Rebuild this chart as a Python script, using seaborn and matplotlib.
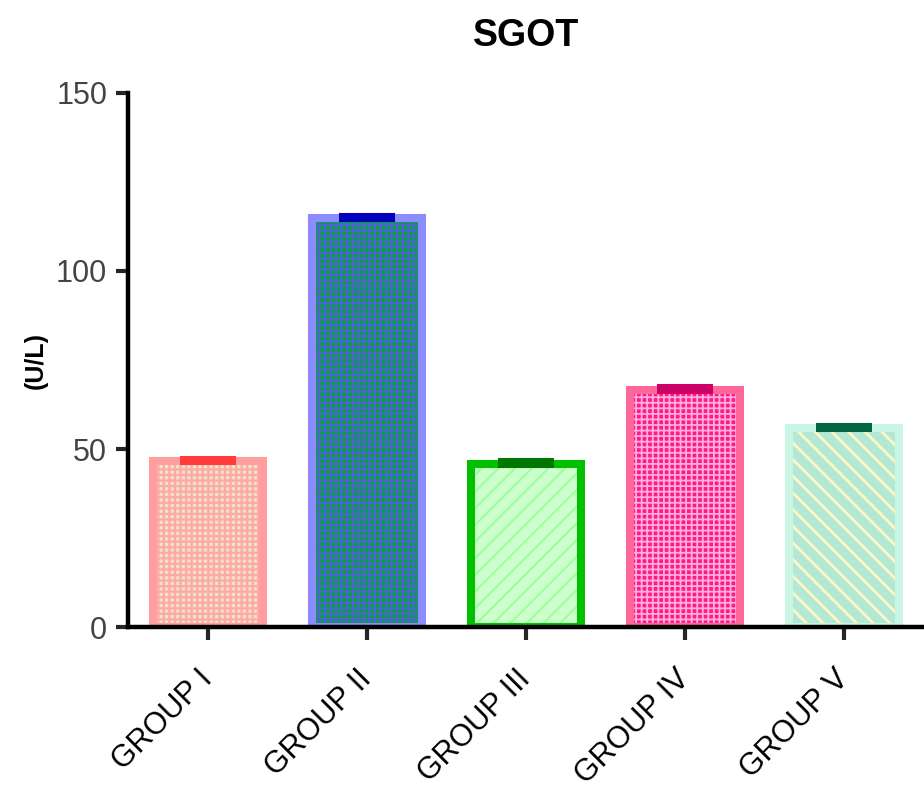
import matplotlib
matplotlib.use('Agg')
import matplotlib.pyplot as plt
import seaborn as sns

groups = ['GROUP I', 'GROUP II', 'GROUP III', 'GROUP IV', 'GROUP V']
means = [46.6, 114.9, 45.8, 66.6, 55.9]
sems = [0.4, 0.4, 0.5, 0.5, 0.4]

face_colors = ['#F0E2C4', '#00A43C', '#CCFFCC', '#FF1A8C', '#B3E8D4']
hatch_colors = ['#FFA8A8', '#5A5AE6', '#99FF99', '#FFB0D8', '#FFF6C8']
edge_colors = ['#FF9E9E', '#8C8CFF', '#00C000', '#FF6699', '#C8F5E4']
cap_colors = ['#FF3B3B', '#0000BB', '#007700', '#CC0066', '#006644']
hatches = ['+++', '+++', '//', '+++', '\\\\']
hatch_widths = [1.6, 1.2, 1.4, 1.3, 2.0]

sns.set_style('white')
plt.rcParams['font.family'] = ['Liberation Sans', 'DejaVu Sans']
plt.rcParams['hatch.linewidth'] = 1.4

fig = plt.figure(figsize=(9.24, 7.92), dpi=100)
ax = fig.add_axes([0.1385, 0.2083, 0.8615, 0.6743])

# hatched fill layer (hatch takes the edge colour, so no visible edge here)
sns.barplot(x=groups, y=means, hue=groups, palette=hatch_colors, legend=False,
            width=0.69, linewidth=0, ax=ax)
for p, fc, hc, h, hw in zip(ax.patches, face_colors, hatch_colors, hatches, hatch_widths):
    p.set_facecolor(fc)
    p.set_edgecolor(hc)
    p.set_hatch(h)
    if hasattr(p, 'set_hatch_linewidth'):
        p.set_hatch_linewidth(hw)

# thick coloured borders
sns.barplot(x=groups, y=means, hue=groups, palette=edge_colors, legend=False,
            width=0.69, fill=False, linewidth=5.8, ax=ax)

# error caps
for i, (m, s, c) in enumerate(zip(means, sems, cap_colors)):
    ax.errorbar(i, m, yerr=[[0], [s]], fmt='none', ecolor=c, elinewidth=3,
                capsize=20, capthick=5.8, zorder=5)

ax.set_xlim(-0.5, 4.5)
ax.set_ylim(0, 150)
ax.set_yticks([0, 50, 100, 150])
sns.despine(ax=ax)
for side in ['left', 'bottom']:
    ax.spines[side].set_linewidth(3.2)
    ax.spines[side].set_color('black')

ax.tick_params(axis='y', length=9, width=3, pad=6, labelsize=22, labelcolor='#444444', left=True)
ax.tick_params(axis='x', length=9, width=3, pad=25, labelsize=22, labelcolor='black', bottom=True)
for lab in ax.get_xticklabels():
    lab.set_rotation(45)
    lab.set_ha('right')
    lab.set_va('center')
    lab.set_rotation_mode('anchor')

ax.set_xlabel('')
ax.set_ylabel('(U/L)', fontsize=18, fontweight='bold', color='black', labelpad=6)
ax.set_title('SGOT', fontsize=27, fontweight='bold', color='black', pad=34)

fig.savefig('out.png', dpi=100)
